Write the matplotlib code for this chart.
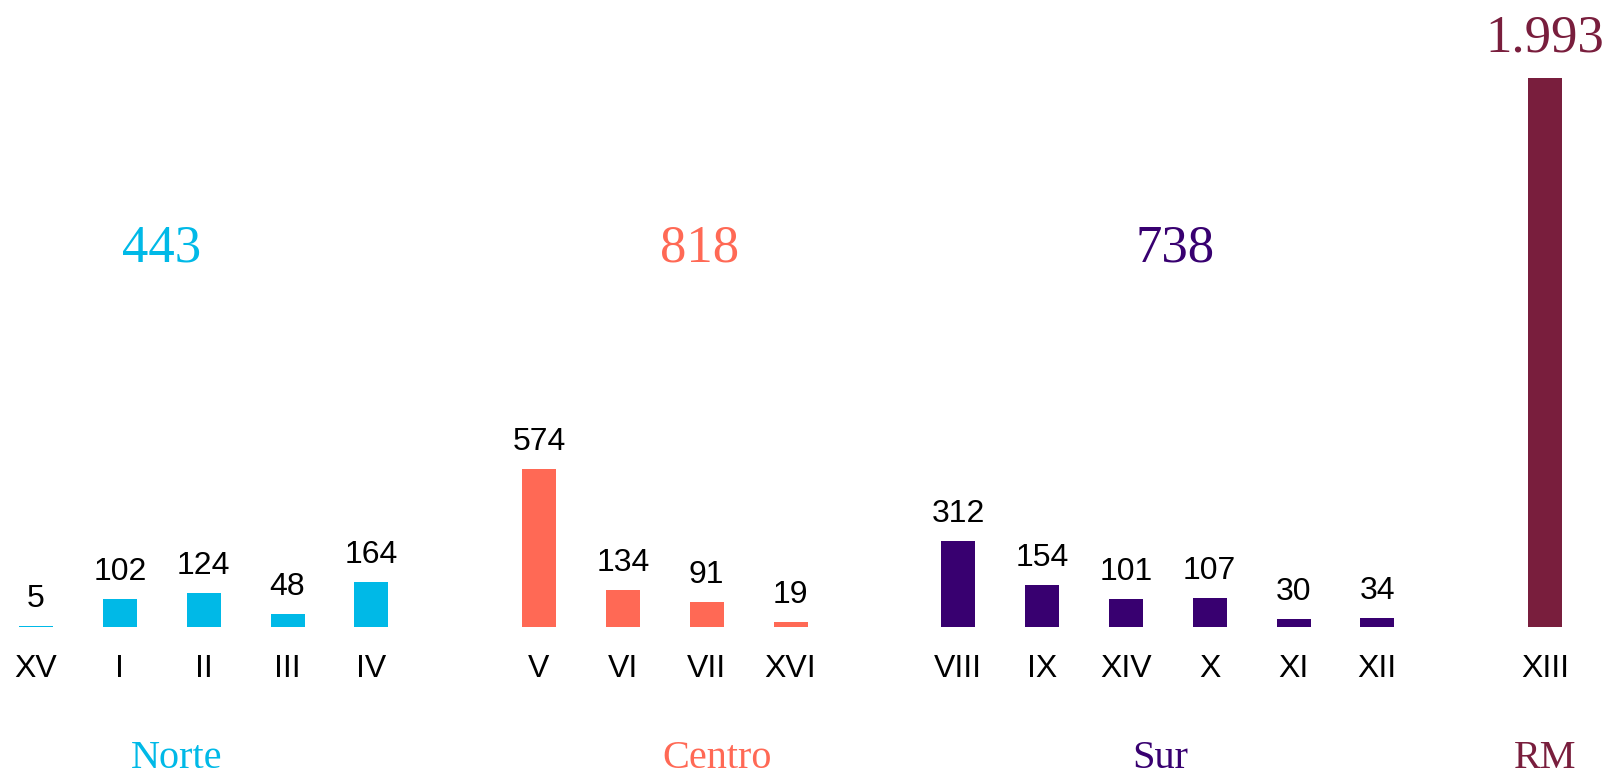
import matplotlib
matplotlib.use("Agg")
import matplotlib.pyplot as plt
import matplotlib.transforms as mtransforms

# Data
regions = ["XV", "I", "II", "III", "IV",
           "V", "VI", "VII", "XVI",
           "VIII", "IX", "XIV", "X", "XI", "XII",
           "XIII"]
values = [5, 102, 124, 48, 164,
          574, 134, 91, 19,
          312, 154, 101, 107, 30, 34,
          1993]
zones = ["Norte"] * 5 + ["Centro"] * 4 + ["Sur"] * 6 + ["RM"]
zone_names = ["Norte", "Centro", "Sur", "RM"]
zone_totals = ["443", "818", "738", "1.993"]

zone_colors = {"Norte": "#00B9E7", "Centro": "#FF6955",
               "Sur": "#380070", "RM": "#791E3D"}

# positions: slot index with one empty slot between groups
positions = []
slot = 0
prev = None
for z in zones:
    if prev is not None and z != prev:
        slot += 1
    positions.append(slot)
    slot += 1
    prev = z

W, H = 1608, 779
fig = plt.figure(figsize=(W / 100, H / 100), dpi=100)
ax = fig.add_axes([0, 0, 1, 1])

spacing = (1545 - 36) / 18.0
ax.set_xlim(-36 / spacing, 18 + (W - 1545) / spacing)
pxu = (627 - 78) / 1993.0
base_from_bottom = H - 627
ax.set_ylim(-base_from_bottom / pxu, (H - base_from_bottom) / pxu)
ax.axis("off")

colors = [zone_colors[z] for z in zones]
bars = ax.bar(positions, values, width=34 / spacing, color=colors)

sans = ["Liberation Sans", "DejaVu Sans"]
serif = ["Liberation Serif", "DejaVu Serif"]

trans = mtransforms.blended_transform_factory(ax.transData, ax.transAxes)

for p, v, r, z in zip(positions, values, regions, zones):
    if z != "RM":
        ax.annotate(str(v), (p, v), xytext=(0, 19 * 0.72), textcoords="offset points",
                    ha="center", va="baseline", fontsize=23, family=sans, color="black")
    ax.text(p, (H - 677) / H, r, transform=trans, ha="center", va="baseline",
            fontsize=23, family=sans, color="black")

# zone totals and names
total_pos = {"Norte": 162, "Centro": 700, "Sur": 1175, "RM": 1545}
total_base = {"Norte": 262, "Centro": 262, "Sur": 262, "RM": 51}
name_pos = {"Norte": 177, "Centro": 717, "Sur": 1160, "RM": 1545}
for zn, tot in zip(zone_names, zone_totals):
    c = zone_colors[zn]
    fig.text(total_pos[zn] / W, (H - total_base[zn]) / H, tot, ha="center", va="baseline",
             fontsize=38, family=serif, color=c)
    fig.text(name_pos[zn] / W, (H - 768) / H, zn, ha="center", va="baseline",
             fontsize=29, family=serif, color=c)

fig.savefig("out.png", dpi=100)
